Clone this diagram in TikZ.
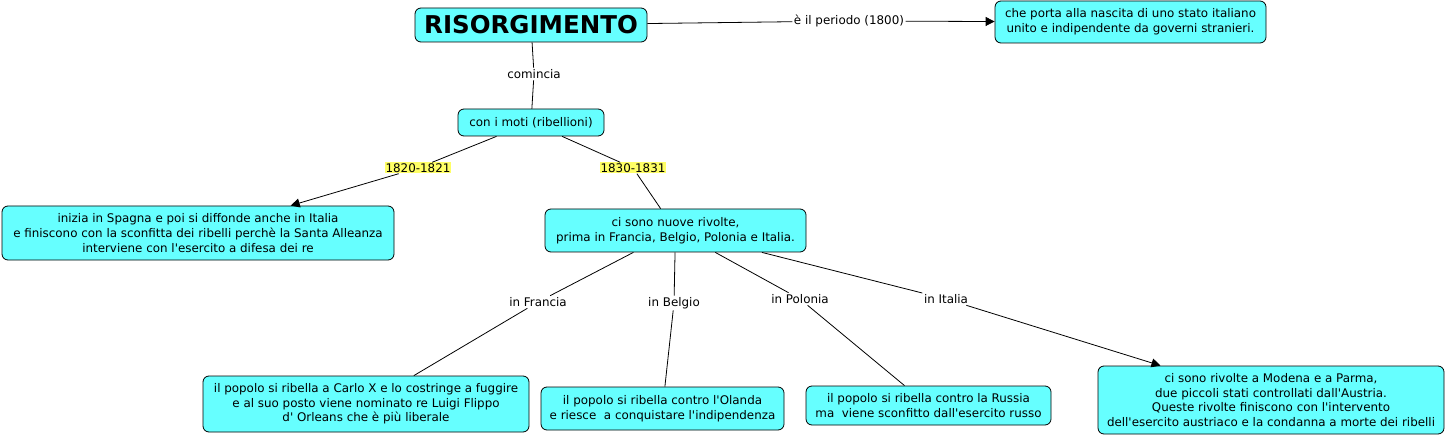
\documentclass[tikz,border=0pt]{standalone}
\usepackage{fontspec}
\setmainfont{DejaVu Sans}[Ligatures=TeXOff]
\usetikzlibrary{arrows.meta}
\definecolor{ConceptCyan}{HTML}{66FFFF}
\definecolor{YearYellow}{HTML}{FFFF66}

\begin{document}
\begin{tikzpicture}[x=1pt, y=-1pt,
  concept/.style={draw=black, line width=0.8pt, rounded corners=6pt, fill=ConceptCyan, align=center, font=\fontsize{11.9}{14.6}\selectfont, inner sep=2pt},
  link/.style={font=\fontsize{11.9}{14}\selectfont, inner sep=1.5pt},
  year/.style={link, fill=YearYellow, inner sep=1pt},
  conn/.style={line width=0.8pt},
  arr/.style={-{Triangle[length=9pt,width=9pt]}, line width=0.8pt}
]
\useasboundingbox (0,0) rectangle (1447,438);
\node[concept, font=\fontsize{24.5}{28}\selectfont\bfseries, minimum width=232pt, minimum height=34pt] (risorg) at (531,25) {RISORGIMENTO};
\node[concept, minimum width=271pt, minimum height=42pt] (nascita) at (1130.5,22) {che porta alla nascita di uno stato italiano\\ unito e indipendente da governi stranieri.};
\node[concept, minimum width=146pt, minimum height=27pt] (moti) at (531,122.5) {con i moti (ribellioni)};
\node[concept, minimum width=392pt, minimum height=54pt] (spagna) at (198,233) {inizia in Spagna e poi si diffonde anche in Italia\\ e finiscono con la sconfitta dei ribelli perchè la Santa Alleanza\\ interviene con l'esercito a difesa dei re};
\node[concept, minimum width=261pt, minimum height=43pt] (rivolte) at (675.5,230.5) {ci sono nuove rivolte,\\ prima in Francia, Belgio, Polonia e Italia.};
\node[concept, minimum width=326pt, minimum height=56pt] (francia) at (366,404) {il popolo si ribella a Carlo X e lo costringe a fuggire\\ e al suo posto viene nominato re Luigi Flippo\\ d' Orleans che è più liberale};
\node[concept, minimum width=243pt, minimum height=43pt] (belgio) at (662.5,408.5) {il popolo si ribella contro l'Olanda\\ e riesce\ \ a conquistare l'indipendenza};
\node[concept, minimum width=245pt, minimum height=39pt] (polonia) at (928.5,405.5) {il popolo si ribella contro la Russia\\ ma\ \ viene sconfitto dall'esercito russo};
\node[concept, minimum width=346pt, minimum height=68pt] (italia) at (1271,400) {ci sono rivolte a Modena e a Parma,\\ due piccoli stati controllati dall'Austria.\\ Queste rivolte finiscono con l'intervento\\ dell'esercito austriaco e la condanna a morte dei ribelli};
% link labels
\node[link] (periodo) at (849,21) {è il periodo (1800)};
\node[link] (comincia) at (534,74) {comincia};
\node[year] (y1820) at (418,168) {1820-1821};
\node[year] (y1830) at (633,168) {1830-1831};
\node[link] (lfrancia) at (538,302) {in Francia};
\node[link] (lbelgio) at (674,303) {in Belgio};
\node[link] (lpolonia) at (800,299) {in Polonia};
\node[link] (litalia) at (946,299) {in Italia};
% connectors
\draw[conn] (risorg) -- (periodo);
\draw[arr] (periodo) -- (nascita);
\draw[conn] (risorg) -- (comincia) -- (moti);
\draw[conn] (moti) -- (y1820);
\draw[arr] (y1820) -- (spagna);
\draw[conn] (moti) -- (y1830) -- (rivolte);
\draw[conn] (rivolte) -- (lfrancia) -- (francia);
\draw[conn] (rivolte) -- (lbelgio) -- (belgio);
\draw[conn] (rivolte) -- (lpolonia) -- (polonia);
\draw[conn] (rivolte) -- (litalia);
\draw[arr] (litalia) -- (italia);
\end{tikzpicture}
\end{document}
